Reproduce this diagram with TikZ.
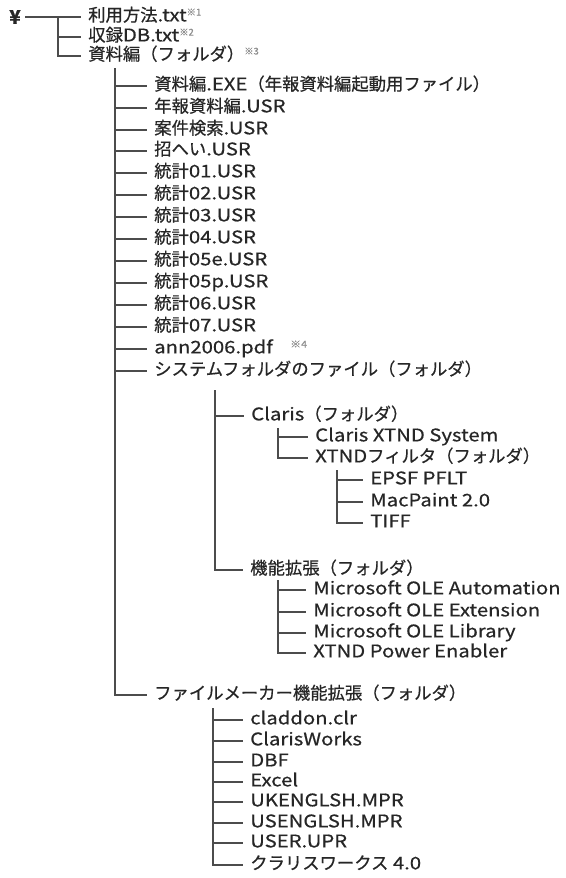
\documentclass[tikz,border=0pt]{standalone}
\usepackage{fontspec}
\setmainfont{Noto Sans CJK JP}[FakeBold=0.6]
\newfontfamily\lat{Noto Sans CJK JP}[FakeBold=0.6,FakeStretch=1.17]
\usepackage{tikz}
\newcommand{\kome}[1]{\textsuperscript{\color{black!45}\scriptsize ※#1}}

\begin{document}
\begin{tikzpicture}[
  x=0.75pt,y=-0.75pt,
  item/.style={anchor=west,inner ysep=3pt,inner xsep=5pt,xshift=-2pt,text height=9pt,text depth=2.5pt},
  en/.style={item,font=\fontsize{13}{15}\selectfont\lat},
  tl/.style={draw=black!70,line width=0.8pt},
  every node/.style={font=\fontsize{13}{15}\selectfont,text=black!85}
]
  \useasboundingbox (0,0) rectangle (566,878);

  \node[font=\fontsize{14}{16}\selectfont\bfseries] (yen) at (15,17) {¥};

  \coordinate (r) at (58,17);
  \node[item] (use) at (84,17) {利用方法{\lat .txt}\kome{1}};
  \node[item] (db)  at (84,37) {収録{\lat DB.txt}\kome{2}};
  \node[item] (doc) at (84,56) {資料編（フォルダ）\kome{3}};
  \draw[tl](yen)--(r); \draw[tl](r)|-(use.west);
  \draw[tl](r)|-(db.west); \draw[tl](r)|-(doc.west);

  \coordinate (s) at (115,68);
  \node[item] (exe)  at (150,86)  {資料編{\lat .EXE}（年報資料編起動用ファイル）};
  \node[item] (ann)  at (150,108) {年報資料編{\lat .USR}};
  \node[item] (kenk) at (150,130) {案件検索{\lat .USR}};
  \node[item] (shou) at (150,151) {招へい{\lat .USR}};
  \node[item] (t01)  at (150,173) {統計{\lat 01.USR}};
  \node[item] (t02)  at (150,195) {統計{\lat 02.USR}};
  \node[item] (t03)  at (150,217) {統計{\lat 03.USR}};
  \node[item] (t04)  at (150,239) {統計{\lat 04.USR}};
  \node[item] (t05e) at (150,261) {統計{\lat 05e.USR}};
  \node[item] (t05p) at (150,283) {統計{\lat 05p.USR}};
  \node[item] (t06)  at (150,305) {統計{\lat 06.USR}};
  \node[item] (t07)  at (150,327) {統計{\lat 07.USR}};
  \node[en]   (pdf)  at (150,349) {ann2006.pdf\hspace{1em}\kome{4}};
  \node[item] (sys)  at (150,371) {システムフォルダのファイル（フォルダ）};
  \node[item] (fm)   at (150,695) {ファイルメーカー機能拡張（フォルダ）};
  \draw[tl](s)|-(exe.west);  \draw[tl](s)|-(ann.west);
  \draw[tl](s)|-(kenk.west); \draw[tl](s)|-(shou.west);
  \draw[tl](s)|-(t01.west);  \draw[tl](s)|-(t02.west);
  \draw[tl](s)|-(t03.west);  \draw[tl](s)|-(t04.west);
  \draw[tl](s)|-(t05e.west); \draw[tl](s)|-(t05p.west);
  \draw[tl](s)|-(t06.west);  \draw[tl](s)|-(t07.west);
  \draw[tl](s)|-(pdf.west);  \draw[tl](s)|-(sys.west);
  \draw[tl](s)|-(fm.west);

  % system folder
  \coordinate (sy) at (215,390);
  \node[item] (cls)  at (247,416) {{\lat Claris}（フォルダ）};
  \node[item] (kino) at (246,570) {機能拡張（フォルダ）};
  \draw[tl](sy)|-(cls.west); \draw[tl](sy)|-(kino.west);

  \coordinate (cl) at (278,428);
  \node[en]   (xsys) at (311,437) {Claris XTND System};
  \node[item] (xflt) at (311,458) {{\lat XTND}フィルタ（フォルダ）};
  \draw[tl](cl)|-(xsys.west); \draw[tl](cl)|-(xflt.west);

  \coordinate (xf) at (337,470);
  \node[en] (epsf) at (366,480) {EPSF PFLT};
  \node[en] (mpnt) at (366,502) {MacPaint 2.0};
  \node[en] (tiff) at (366,523) {TIFF};
  \draw[tl](xf)|-(epsf.west); \draw[tl](xf)|-(mpnt.west);
  \draw[tl](xf)|-(tiff.west);

  \coordinate (kn) at (278,580);
  \node[en] (oaut) at (309,590) {Microsoft OLE Automation};
  \node[en] (oext) at (309,612) {Microsoft OLE Extension};
  \node[en] (olib) at (309,633) {Microsoft OLE Library};
  \node[en] (xpow) at (309,653) {XTND Power Enabler};
  \draw[tl](kn)|-(oaut.west); \draw[tl](kn)|-(oext.west);
  \draw[tl](kn)|-(olib.west); \draw[tl](kn)|-(xpow.west);

  % filemaker extensions
  \coordinate (fx) at (213,708);
  \node[en]   (cadd) at (246,720) {claddon.clr};
  \node[en]   (cwks) at (246,741) {ClarisWorks};
  \node[en]   (dbf)  at (246,762) {DBF};
  \node[en]   (xls)  at (246,782) {Excel};
  \node[en]   (uk)   at (246,802) {UKENGLSH.MPR};
  \node[en]   (us)   at (246,823) {USENGLSH.MPR};
  \node[en]   (upr)  at (246,843) {USER.UPR};
  \node[item] (cw4)  at (246,865) {クラリスワークス{\lat\ 4.0}};
  \draw[tl](fx)|-(cadd.west); \draw[tl](fx)|-(cwks.west);
  \draw[tl](fx)|-(dbf.west);  \draw[tl](fx)|-(xls.west);
  \draw[tl](fx)|-(uk.west);   \draw[tl](fx)|-(us.west);
  \draw[tl](fx)|-(upr.west);  \draw[tl](fx)|-(cw4.west);
\end{tikzpicture}
\end{document}
